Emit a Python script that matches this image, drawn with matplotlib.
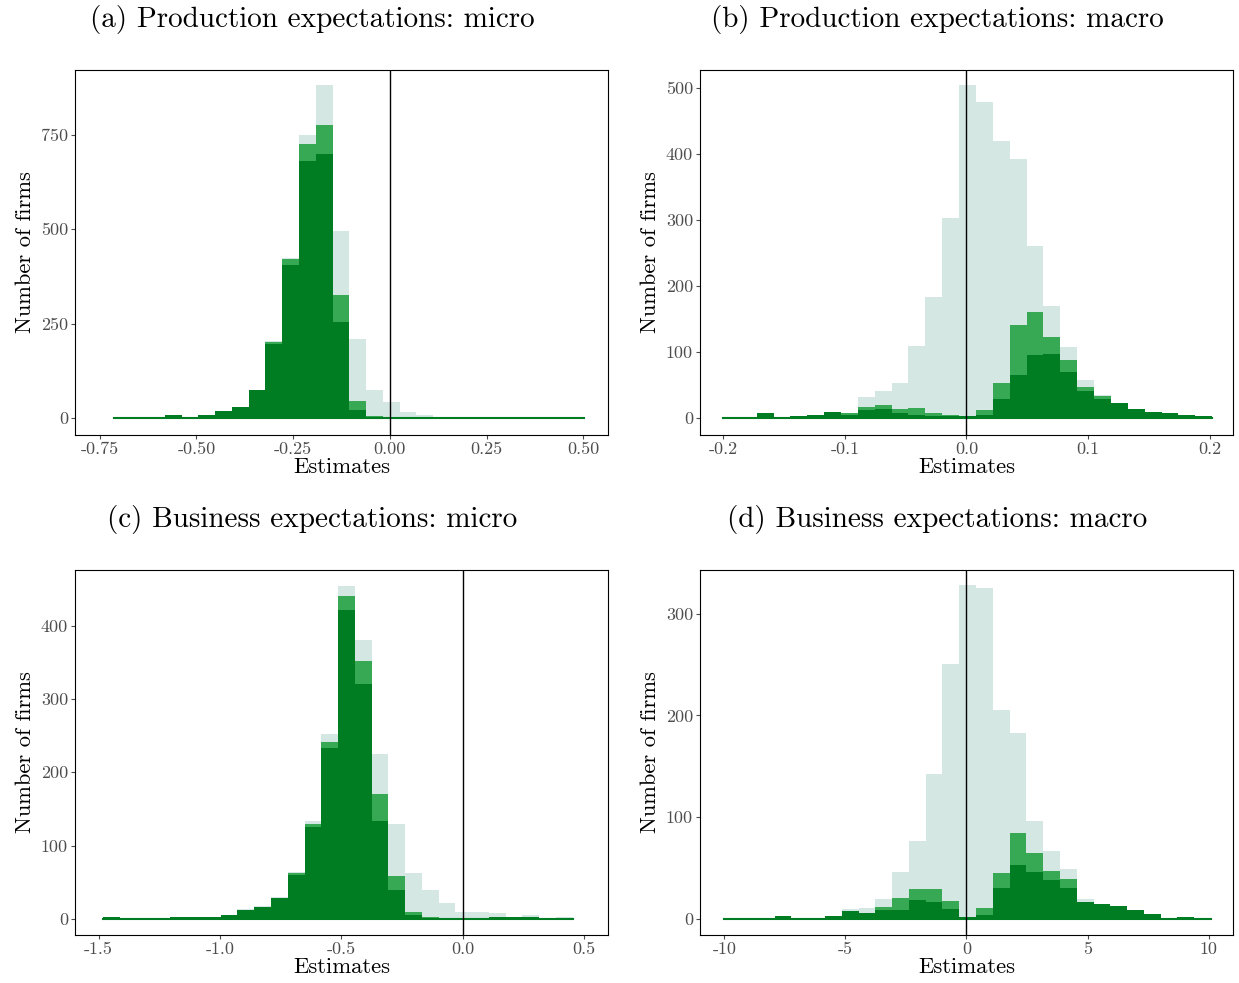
import numpy as np
import matplotlib
matplotlib.use("Agg")
import matplotlib.pyplot as plt

plt.rcParams['font.family'] = 'serif'
plt.rcParams['font.serif'] = ['cmr10', 'DejaVu Serif']
plt.rcParams['axes.unicode_minus'] = False

titles = ["(a) Production expectations: micro", "(b) Production expectations: macro",
          "(c) Business expectations: micro", "(d) Business expectations: macro"]

# bin ranges
range_a = (-0.712, 0.502); range_b = (-0.2002, 0.202)
range_c = (-1.480, 0.453); range_d = (-10.0, 10.1)

light_a = [0,0,3,7,3,9,19,30,75,204,424,751,882,496,208,75,42,15,9,0,3,1,1,1,2,1,1,1]
mid_a   = [0,0,3,7,3,9,19,30,75,202,421,727,775,325,46,4,0,0,0,0,3,1,1,1,2,1,1,1]
dark_a  = [0,0,3,7,3,9,19,30,75,195,405,680,700,255,20,2,0,0,0,0,3,1,1,1,2,1,1,1]

light_b = [1,1,7,1,3,5,9,8,32,41,52,109,183,302,504,478,419,392,261,170,108,57,35,23,14,9,8,4,3]
mid_b   = [1,1,7,1,3,5,9,8,17,19,14,15,8,4,2,12,53,140,160,122,88,47,33,23,14,9,8,4,3]
dark_b  = [1,1,7,1,3,5,9,5,12,13,7,4,3,3,2,5,29,65,95,97,69,40,29,23,14,9,8,4,3]

light_c = [2,0,0,1,2,2,2,5,13,18,30,64,134,252,454,381,225,130,62,40,22,10,10,8,2,5,1,3]
mid_c   = [2,0,0,1,2,2,2,5,12,16,29,62,130,242,440,352,170,59,10,2,0,0,0,2,2,2,1,1]
dark_c  = [2,0,0,1,2,2,2,5,12,16,29,60,126,233,421,320,133,40,5,1,0,0,0,2,2,2,1,1]

light_d = [0,0,0,3,0,0,3,10,11,19,46,76,142,251,328,325,205,183,96,67,49,19,15,13,9,5,0,2,0]
mid_d   = [0,0,0,3,0,0,3,8,6,12,20,29,29,17,2,11,45,84,65,47,39,16,15,13,9,5,0,2,0]
dark_d  = [0,0,0,3,0,0,3,8,6,9,9,18,16,10,2,4,30,53,46,38,30,16,15,13,9,5,0,2,0]

xticks = [[-0.75,-0.5,-0.25,0,0.25,0.5],[-0.2,-0.1,0,0.1,0.2],[-1.5,-1.0,-0.5,0,0.5],[-10,-5,0,5,10]]
xtlabels = [["-0.75","-0.50","-0.25","0.00","0.25","0.50"],["-0.2","-0.1","0.0","0.1","0.2"],
            ["-1.5","-1.0","-0.5","0.0","0.5"],["-10","-5","0","5","10"]]
yticks = [[0,250,500,750],[0,100,200,300,400,500],[0,100,200,300,400],[0,100,200,300]]
xlims = [(-0.814,0.563),(-0.219,0.219),(-1.597,0.597),(-11,11)]
ylims = [(-45,922),(-26,527),(-22,476),(-16,343)]

data = [(range_a,light_a,mid_a,dark_a),(range_b,light_b,mid_b,dark_b),
        (range_c,light_c,mid_c,dark_c),(range_d,light_d,mid_d,dark_d)]

c_light = "#d4e7e2"; c_mid = "#37a853"; c_dark = "#007d22"

fig = plt.figure(figsize=(12.39, 9.83), dpi=100)
pos = [(0.0605,0.5575),(0.565,0.5575),(0.0605,0.0488),(0.565,0.0488)]
for i in range(4):
    ax = fig.add_axes([pos[i][0], pos[i][1], 0.430, 0.3713])
    (lo, hi), L, M, D = data[i]
    n = len(L)
    edges = np.linspace(lo, hi, n+1)
    w = edges[1]-edges[0]
    for vals, col in [(L,c_light),(M,c_mid),(D,c_dark)]:
        ax.bar(edges[:-1], vals, width=w, align='edge', color=col, linewidth=0)
    ax.plot([edges[0], edges[-1]], [0, 0], color=c_dark, lw=1.5, zorder=3)
    ax.axvline(0, color='black', lw=1.0, zorder=4)
    ax.set_xlim(*xlims[i]); ax.set_ylim(*ylims[i])
    ax.set_xticks(xticks[i]); ax.set_xticklabels(xtlabels[i])
    ax.set_yticks(yticks[i]); ax.set_yticklabels([str(v) for v in yticks[i]])
    ax.tick_params(labelsize=13, colors='#4d4d4d', length=3, pad=2)
    for s in ax.spines.values():
        s.set_linewidth(0.8); s.set_color('black')
    ax.set_xlabel("Estimates", fontsize=16.3, labelpad=0)
    ax.set_ylabel("Number of firms", fontsize=16.2, labelpad=4)
    ax.set_title(titles[i], fontsize=21, pad=31, x=0.445)

fig.savefig("out.png", dpi=100)
